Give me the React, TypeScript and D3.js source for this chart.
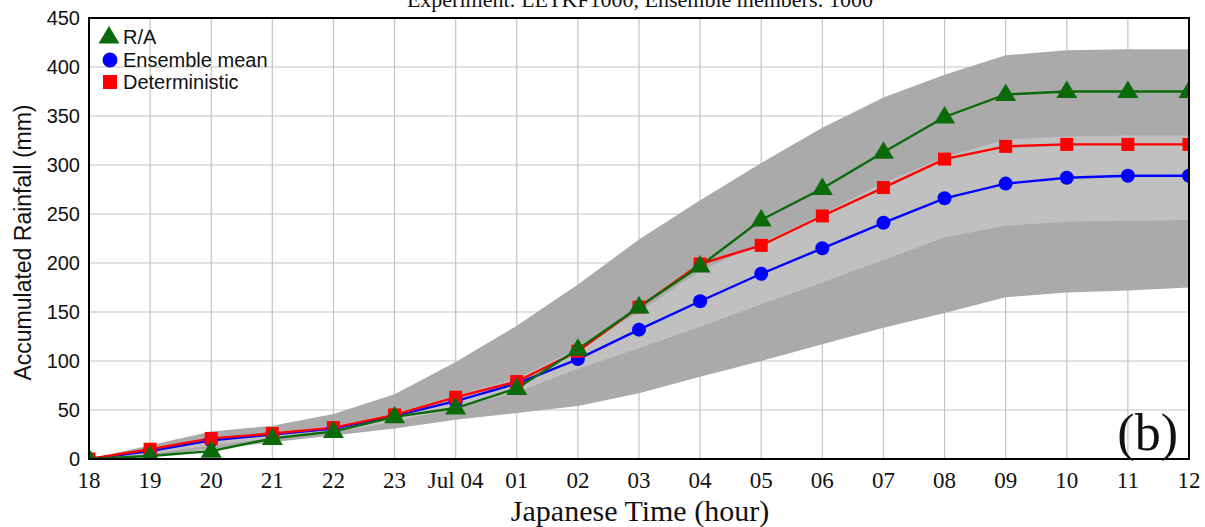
import React from 'react';
import * as d3 from 'd3';

// x categories (hour ticks)
const hours = ['18', '19', '20', '21', '22', '23', 'Jul 04', '01', '02', '03', '04', '05', '06', '07', '08', '09', '10', '11', '12'];

const radar = [0, 3, 8, 21, 28, 43, 52, 72, 112, 155, 197, 244, 276, 313, 349, 372, 375, 375, 375];
const ensMean = [0, 8, 19, 25, 31, 44, 59, 77, 102, 132, 161, 189, 215, 241, 266, 281, 287, 289, 289];
const determ = [0, 10, 21, 26, 32, 45, 63, 79, 110, 155, 199, 218, 248, 277, 306, 319, 321, 321, 321];

const outerUpper = [0, 14, 28, 34, 46, 66, 99, 136, 178, 224, 264, 302, 338, 369, 392, 412, 417, 418, 418];
const outerLower = [0, 3, 10, 17, 24, 31, 40, 47, 54, 67, 84, 100, 117, 134, 149, 165, 170, 172, 175];
const innerUpper = [0, 11, 22, 27, 34, 47, 65, 82, 113, 150, 192, 220, 250, 282, 308, 326, 329, 330, 330];
const innerLower = [0, 5, 14, 21, 27, 38, 52, 68, 92, 113, 135, 158, 180, 203, 226, 238, 242, 243, 244];

const yTicks = [0, 50, 100, 150, 200, 250, 300, 350, 400, 450];

const W = 1205;
const H = 527;
const m = { left: 89, right: 1189, top: 18, bottom: 459 };

export default function App() {
  const x = d3.scaleLinear().domain([0, hours.length - 1]).range([m.left, m.right]);
  const y = d3.scaleLinear().domain([0, 450]).range([m.bottom, m.top]);

  const band = (lo: number[], hi: number[]) =>
    d3.area<number>()
      .x((_, i) => x(i))
      .y0((_, i) => y(lo[i]))
      .y1((_, i) => y(hi[i]))(lo) || '';

  const line = (vals: number[]) =>
    d3.line<number>().x((_, i) => x(i)).y(d => y(d))(vals) || '';

  const green = '#0b6b0b';
  const blue = '#0000ff';
  const red = '#ff0000';
  const sans = '"Liberation Sans", Arial, sans-serif';
  const serif = '"Liberation Serif", "Times New Roman", serif';

  const tri = (cx: number, cy: number, s = 10) =>
    `M${cx},${cy - s}L${cx + s * 1.05},${cy + s * 0.75}L${cx - s * 1.05},${cy + s * 0.75}Z`;

  return (
    <svg width={W} height={H} style={{ position: 'absolute', left: 0, top: 0, background: '#fff' }}>
      <defs>
        <clipPath id="plot">
          <rect x={m.left} y={m.top} width={m.right - m.left} height={m.bottom - m.top} />
        </clipPath>
      </defs>

      <text x={640} y={7} textAnchor="middle" fontFamily={serif} fontSize={22} fill="#111">
        Experiment: LETKF1000, Ensemble members: 1000
      </text>

      {/* grid */}
      <g stroke="#c4c4c4" strokeWidth={1.2}>
        {hours.map((_, i) => (
          <line key={'gx' + i} x1={x(i)} x2={x(i)} y1={m.top} y2={m.bottom} />
        ))}
        {yTicks.map(t => (
          <line key={'gy' + t} x1={m.left} x2={m.right} y1={y(t)} y2={y(t)} />
        ))}
      </g>

      <g clipPath="url(#plot)">
        <path d={band(outerLower, outerUpper)} fill="#aaaaaa" />
        <path d={band(innerLower, innerUpper)} fill="#c0c0c0" />

        <path d={line(ensMean)} fill="none" stroke={blue} strokeWidth={2.4} />
        <path d={line(determ)} fill="none" stroke={red} strokeWidth={2.4} />
        <path d={line(radar)} fill="none" stroke={green} strokeWidth={2.4} />

        {ensMean.map((v, i) => (
          <circle key={'b' + i} cx={x(i)} cy={y(v)} r={7} fill={blue} />
        ))}
        {determ.map((v, i) => (
          <rect key={'r' + i} x={x(i) - 6.5} y={y(v) - 6.5} width={13} height={13} fill={red} />
        ))}
        {radar.map((v, i) => (
          <path key={'g' + i} d={tri(x(i), y(v) - 1)} fill={green} />
        ))}
      </g>

      {/* frame */}
      <rect x={m.left} y={m.top} width={m.right - m.left} height={m.bottom - m.top}
        fill="none" stroke="#000" strokeWidth={2} />

      {/* y ticks */}
      {yTicks.map(t => (
        <text key={'yl' + t} x={80} y={y(t) + 7} textAnchor="end" fontFamily={sans} fontSize={20} fill="#111">
          {t}
        </text>
      ))}
      <text transform={`translate(31,${(m.top + m.bottom) / 2 + 4}) rotate(-90)`} textAnchor="middle"
        fontFamily={sans} fontSize={23} fill="#111">
        Accumulated Rainfall (mm)
      </text>

      {/* x ticks */}
      {hours.map((h, i) => (
        <text key={'xl' + i} x={x(i)} y={488} textAnchor="middle" fontFamily={serif} fontSize={23} fill="#111">
          {h}
        </text>
      ))}
      <text x={640} y={521} textAnchor="middle" fontFamily={serif} fontSize={30} fill="#111">
        Japanese Time (hour)
      </text>

      {/* legend */}
      <path d={tri(109, 36, 10)} fill={green} />
      <text x={123} y={44} fontFamily={sans} fontSize={20} fill="#111">R/A</text>
      <circle cx={110} cy={60} r={7.5} fill={blue} />
      <text x={123} y={67} fontFamily={sans} fontSize={20} fill="#111">Ensemble mean</text>
      <rect x={103} y={75} width={14} height={14} fill={red} />
      <text x={123} y={89} fontFamily={sans} fontSize={20} fill="#111">Deterministic</text>

      <text x={1178} y={450} textAnchor="end" fontFamily={serif} fontSize={52} fill="#111">(b)</text>
    </svg>
  );
}
